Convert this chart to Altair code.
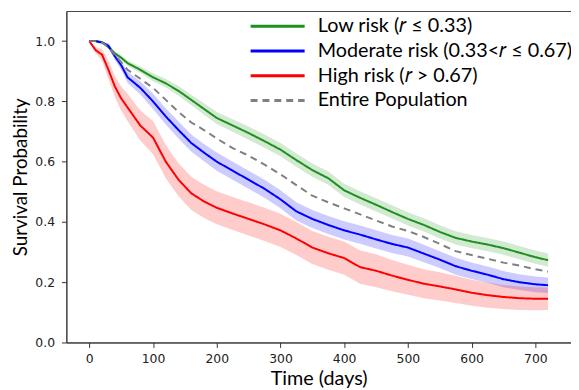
import altair as alt
import pandas as pd

# time grid (days)
t = [0, 10, 20, 30, 40, 50, 60, 80, 100, 120, 140, 160, 180, 200, 225, 250, 275,
     300, 325, 350, 375, 400, 425, 450, 475, 500, 525, 550, 575, 600, 625, 650,
     675, 700, 720]

low = [1.0, 1.0, 0.997, 0.98, 0.96, 0.945, 0.927, 0.905, 0.88, 0.86, 0.835, 0.805,
       0.775, 0.745, 0.72, 0.695, 0.668, 0.64, 0.605, 0.572, 0.545, 0.505, 0.48,
       0.457, 0.433, 0.41, 0.39, 0.367, 0.347, 0.335, 0.325, 0.313, 0.298, 0.283, 0.273]
low_ci = [0, 0, 0.002, 0.005, 0.006, 0.008, 0.009, 0.011, 0.013, 0.014, 0.016, 0.017,
          0.019, 0.02, 0.021, 0.022, 0.022, 0.022, 0.022, 0.022, 0.022, 0.022, 0.022,
          0.022, 0.022, 0.022, 0.022, 0.022, 0.022, 0.022, 0.022, 0.022, 0.022, 0.022, 0.022]

moderate = [1.0, 1.0, 0.995, 0.985, 0.95, 0.92, 0.88, 0.845, 0.80, 0.75, 0.705, 0.662,
            0.63, 0.60, 0.57, 0.54, 0.51, 0.475, 0.435, 0.41, 0.39, 0.372, 0.358,
            0.342, 0.327, 0.315, 0.295, 0.275, 0.253, 0.238, 0.225, 0.21, 0.2, 0.193, 0.19]
moderate_ci = [0, 0, 0.003, 0.008, 0.012, 0.015, 0.018, 0.022, 0.025, 0.027, 0.028, 0.028,
               0.029, 0.03, 0.03, 0.03, 0.03, 0.03, 0.03, 0.03, 0.03, 0.03, 0.03, 0.03,
               0.03, 0.03, 0.029, 0.028, 0.028, 0.027, 0.027, 0.027, 0.026, 0.026, 0.026]

high = [1.0, 0.97, 0.955, 0.905, 0.85, 0.81, 0.78, 0.72, 0.68, 0.60, 0.54, 0.495,
        0.468, 0.447, 0.428, 0.41, 0.392, 0.372, 0.345, 0.315, 0.296, 0.28, 0.25,
        0.238, 0.222, 0.208, 0.195, 0.186, 0.176, 0.165, 0.157, 0.151, 0.147, 0.145, 0.145]
high_ci = [0, 0.01, 0.02, 0.03, 0.035, 0.04, 0.045, 0.05, 0.055, 0.055, 0.055, 0.055,
           0.055, 0.055, 0.055, 0.055, 0.055, 0.055, 0.055, 0.055, 0.055, 0.055, 0.055,
           0.055, 0.052, 0.05, 0.048, 0.047, 0.045, 0.043, 0.042, 0.04, 0.039, 0.038, 0.037]

entire = [1.0, 1.0, 0.995, 0.98, 0.955, 0.93, 0.905, 0.875, 0.845, 0.805, 0.765, 0.73,
          0.705, 0.677, 0.645, 0.62, 0.59, 0.558, 0.522, 0.487, 0.465, 0.445, 0.425,
          0.405, 0.385, 0.37, 0.35, 0.327, 0.303, 0.29, 0.278, 0.265, 0.255, 0.243, 0.235]

labels = ["Low risk (𝑟 ≤ 0.33)", "Moderate risk (0.33<𝑟 ≤ 0.67)",
          "High risk (𝑟 > 0.67)", "Entire Population"]
colors = ["#1e901e", "#0000ff", "#ff0000", "#808080"]
dashes = [[1, 0], [1, 0], [1, 0], [7, 5]]

rows = []
for name, s, ci in [(labels[0], low, low_ci), (labels[1], moderate, moderate_ci),
                    (labels[2], high, high_ci), (labels[3], entire, None)]:
    for i, ti in enumerate(t):
        c = ci[i] if ci is not None else None
        rows.append({"t": ti, "s": s[i], "series": name,
                     "lo": s[i] - c if c is not None else None,
                     "hi": s[i] + c if c is not None else None})
df = pd.DataFrame(rows)

xscale = alt.Scale(domain=[-36, 756], nice=False, zero=False)
yscale = alt.Scale(domain=[0, 1.1], nice=False)
cscale = alt.Scale(domain=labels, range=colors)

xaxis = alt.Axis(values=list(range(0, 701, 100)), title="Time (days)")
yaxis = alt.Axis(values=[0, 0.2, 0.4, 0.6, 0.8, 1.0], format=".1f",
                 title="Survival Probability")

legend = alt.Legend(title=None, orient="none", legendX=199, legendY=1)

bands = alt.Chart(df[df["series"] != labels[3]]).mark_area(fillOpacity=0.2).encode(
    x=alt.X("t:Q", scale=xscale, axis=xaxis),
    y=alt.Y("lo:Q", scale=yscale, axis=yaxis),
    y2="hi:Q",
    color=alt.Color("series:N", scale=cscale, legend=legend),
)

lines = alt.Chart(df).mark_line(strokeWidth=2).encode(
    x=alt.X("t:Q", scale=xscale),
    y=alt.Y("s:Q", scale=yscale),
    color=alt.Color("series:N", scale=cscale, legend=legend),
    strokeDash=alt.StrokeDash("series:N", scale=alt.Scale(domain=labels, range=dashes),
                              legend=legend),
)

chart = alt.layer(bands, lines).properties(
    width=510, height=335,
    autosize=alt.AutoSizeParams(type="none"),
    padding={"left": 59, "top": 1, "right": 0, "bottom": 45},
).configure_view(stroke="#444", strokeWidth=1).configure_axis(
    grid=False, domainColor="#333", tickColor="#333", tickSize=5,
    labelFont="DejaVu Sans", labelFontSize=12.5, labelColor="#222",
    titleFont="Lato", titleFontWeight="normal", titleColor="#000",
).configure_axisX(
    labelPadding=5, titleFontSize=20, titlePadding=4,
).configure_axisY(
    labelPadding=7, titleFontSize=19, titlePadding=4,
).configure_legend(
    padding=0,
    symbolType="M-2.1,0H2.1", symbolSize=676, symbolStrokeWidth=3,
    labelFont="Lato", labelFontSize=20, labelColor="#000", labelOffset=26,
    rowPadding=0, labelLimit=400,
)

chart.save("out.html", embed_options={"renderer": "svg", "actions": False})
